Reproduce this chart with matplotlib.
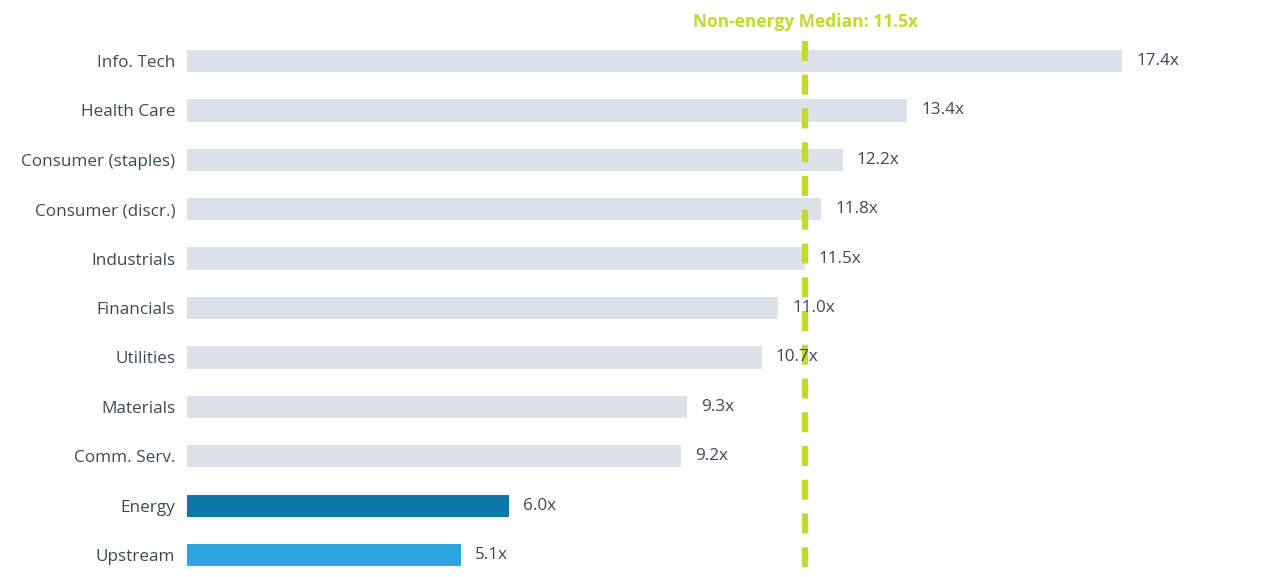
import matplotlib.pyplot as plt

# Sector P/E multiples
sectors = ["Info. Tech", "Health Care", "Consumer (staples)", "Consumer (discr.)",
           "Industrials", "Financials", "Utilities", "Materials", "Comm. Serv.",
           "Energy", "Upstream"]
multiples = [17.4, 13.4, 12.2, 11.8, 11.5, 11.0, 10.7, 9.3, 9.2, 6.0, 5.1]
median_value = 11.5

grey = "#dde1e9"
bar_colors = [grey] * 9 + ["#0e76aa", "#2ea6dd"]
text_color = "#3d4a57"
green = "#c4d92e"

plt.rcParams['font.family'] = ['Open Sans', 'DejaVu Sans']

fig = plt.figure(figsize=(12.87, 5.77), dpi=100)
ax = fig.add_axes([187 / 1287, 0, 1100 / 1287, 1])

ypos = list(range(len(sectors)))
ax.barh(ypos, multiples, height=0.45, color=bar_colors, zorder=2)

ax.set_xlim(0, 1100 / 53.74)
ax.set_ylim(10.445, -1.235)

# value labels at the end of each bar
for y, v in zip(ypos, multiples):
    ax.text(v + 0.26, y, f"{v:.1f}x", va="center", ha="left",
            fontsize=12.3, color=text_color, zorder=4)

# category labels on the left
ax.set_yticks(ypos)
ax.set_yticklabels(sectors, fontsize=12.3, color=text_color)
ax.tick_params(axis="y", length=0, pad=8.5)
ax.set_xticks([])
for s in ax.spines.values():
    s.set_visible(False)

# median line
ax.plot([median_value, median_value], [-0.4, 10.445], color=green, lw=4.5,
        dashes=(3.2, 2.2), zorder=3, solid_capstyle="butt", dash_capstyle="butt")
ax.text(median_value, -0.78, f"Non-energy Median: {median_value}x", ha="center",
        va="center", fontsize=12.5, fontweight="bold", color=green)

fig.savefig("out.png", dpi=100)
